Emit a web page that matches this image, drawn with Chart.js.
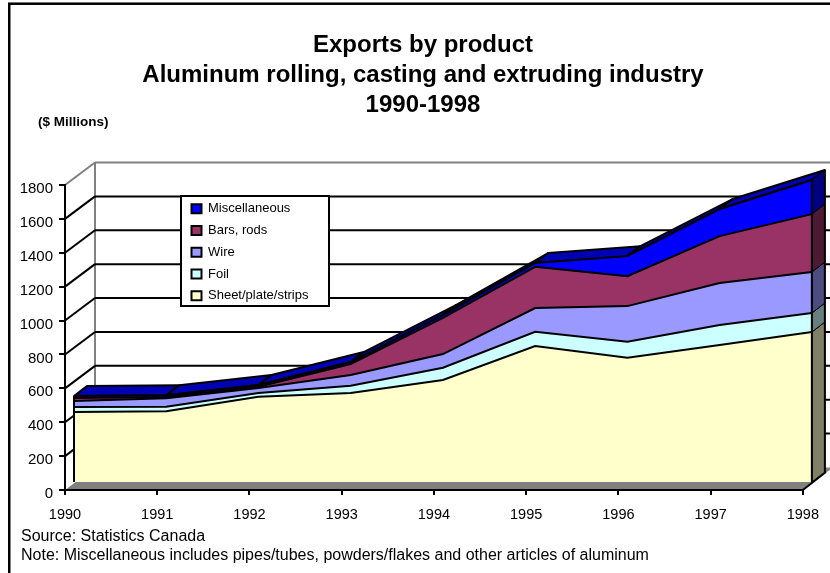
<!DOCTYPE html>
<html>
<head>
<meta charset="utf-8">
<title>Exports by product</title>
<script src="https://cdn.jsdelivr.net/npm/chart.js@4"></script>
<style>
    body { margin: 0; background: #fff; }
    canvas { display: block; }
</style>
</head>
<body>
<canvas id="grafico" width="830" height="573"></canvas>
<script>
const anios = ['1990', '1991', '1992', '1993', '1994', '1995', '1996', '1997', '1998'];
const sheet = [413, 417, 503, 525, 602, 802, 733, 808, 885];
const foil = [29, 27, 22, 43, 72, 85, 95, 118, 112];
const wire = [36, 50, 30, 63, 81, 140, 210, 248, 242];
const bars = [18, 8, 7, 65, 213, 243, 177, 277, 342];
const misc = [11, 10, 10, 12, 17, 22, 118, 160, 201];

const nombres = ['Sheet/plate/strips', 'Foil', 'Wire', 'Bars, rods', 'Miscellaneous'];
const valores = [sheet, foil, wire, bars, misc];
const colores = ['#FFFFCC', '#CCFFFF', '#9999FF', '#993366', '#0000FF'];
const coloresLado = ['#808066', '#668080', '#4C4C80', '#4D1A33', '#000080'];

const FUENTE = '"Liberation Sans", Arial, sans-serif';

// Desplazamientos de la perspectiva (cara frontal, fondo de la capa, pared)
const FRENTE = { x: 9, y: -8 };
const FONDO = { x: 13, y: -10 };
const PARED = { x: 30, y: -22.5 };

function poligono(ctx, puntos, relleno, borde, grosor) {
    ctx.beginPath();
    puntos.forEach((p, i) => i ? ctx.lineTo(p[0], p[1]) : ctx.moveTo(p[0], p[1]));
    ctx.closePath();
    if (relleno) {
        ctx.fillStyle = relleno;
        ctx.fill();
    }
    if (borde) {
        ctx.strokeStyle = borde;
        ctx.lineWidth = grosor;
        ctx.lineJoin = 'round';
        ctx.stroke();
    }
}

function linea(ctx, x1, y1, x2, y2, color, grosor) {
    ctx.beginPath();
    ctx.moveTo(x1, y1);
    ctx.lineTo(x2, y2);
    ctx.strokeStyle = color;
    ctx.lineWidth = grosor;
    ctx.stroke();
}

// Total acumulado hasta la capa indicada, para un año
function acumulado(capa, i) {
    let total = 0;
    for (let c = 0; c <= capa; c++) total += valores[c][i];
    return total;
}

// Paredes, piso, rejilla, recuadros y textos sueltos
const fondo3d = {
    id: 'fondo3d',
    beforeDraw(chart) {
        const { ctx, chartArea: area, scales: { y } } = chart;
        const abajo = y.getPixelForValue(0);
        const arriba = y.getPixelForValue(1800);
        ctx.save();

        // marco exterior
        ctx.strokeStyle = '#000';
        ctx.lineWidth = 2.5;
        ctx.strokeRect(9.25, 3.7, 900, 700);

        // piso
        poligono(ctx, [
            [area.left, abajo], [area.right, abajo],
            [area.right + PARED.x, abajo + PARED.y], [area.left + PARED.x, abajo + PARED.y]
        ], '#808080');
        linea(ctx, area.right, abajo, area.right + 23, abajo - 18, '#000', 2);

        // pared
        linea(ctx, area.left + PARED.x, arriba + PARED.y, area.left + PARED.x, abajo + PARED.y, '#808080', 2);
        linea(ctx, area.left, arriba, area.left + PARED.x, arriba + PARED.y, '#808080', 2);
        linea(ctx, area.left + PARED.x, arriba + PARED.y, 830, arriba + PARED.y, '#808080', 2);

        // rejilla
        for (let v = 200; v <= 1600; v += 200) {
            const py = y.getPixelForValue(v);
            linea(ctx, area.left, py, area.left + PARED.x, py + PARED.y, '#000', 2);
            linea(ctx, area.left + PARED.x, py + PARED.y, 830, py + PARED.y, '#000', 2);
        }

        // recuadro de la leyenda
        ctx.fillStyle = '#fff';
        ctx.fillRect(181, 196, 148, 110);
        ctx.strokeStyle = '#000';
        ctx.lineWidth = 2;
        ctx.strokeRect(181, 196, 148, 110);

        // textos
        ctx.fillStyle = '#000';
        ctx.textBaseline = 'middle';
        ctx.textAlign = 'left';
        ctx.font = 'bold 13.5px ' + FUENTE;
        ctx.fillText('($ Millions)', 38, 122);
        ctx.font = '16px ' + FUENTE;
        ctx.fillText('Source: Statistics Canada', 21, 537);
        ctx.fillText('Note: Miscellaneous includes pipes/tubes, powders/flakes and other articles of aluminum', 21, 556);
        ctx.restore();
    },
    afterLayout(chart) {
        // La leyenda flota sobre la pared
        const leyenda = chart.legend;
        const ancho = leyenda.width;
        const alto = leyenda.height;
        leyenda.left = 182.75;
        leyenda.right = leyenda.left + ancho;
        leyenda.top = 193.5;
        leyenda.bottom = leyenda.top + alto;

        // El título va centrado en x = 423
        chart.titleBlock.left = 16;
        chart.titleBlock.right = 830;
    },
    beforeDatasetsDraw(chart) {
        const { ctx, scales: { x, y } } = chart;
        const ultimo = anios.length - 1;
        const tope = valores.length - 1;
        const punto = (capa, i) => [
            x.getPixelForValue(i) + FRENTE.x,
            y.getPixelForValue(capa < 0 ? 0 : acumulado(capa, i)) + FRENTE.y
        ];

        // cara superior de la capa más alta
        for (let i = 0; i < ultimo; i++) {
            const a = punto(tope, i);
            const b = punto(tope, i + 1);
            poligono(ctx, [a, b, [b[0] + FONDO.x, b[1] + FONDO.y], [a[0] + FONDO.x, a[1] + FONDO.y]], '#0000B4', '#000', 2);
        }

        // cara lateral derecha
        for (let c = 0; c <= tope; c++) {
            const a = punto(c - 1, ultimo);
            const b = punto(c, ultimo);
            poligono(ctx, [a, b, [b[0] + FONDO.x, b[1] + FONDO.y], [a[0] + FONDO.x, a[1] + FONDO.y]], coloresLado[c], '#000', 1);
        }
        const base = punto(-1, ultimo);
        linea(ctx, base[0] + FONDO.x, base[1] + FONDO.y, punto(tope, ultimo)[0] + FONDO.x, punto(tope, ultimo)[1] + FONDO.y, '#000', 2);

        ctx.save();
        ctx.translate(FRENTE.x, FRENTE.y);
    },
    afterDatasetsDraw(chart) {
        const { ctx, chartArea: area, scales: { y } } = chart;
        const ultimo = anios.length - 1;
        const tope = valores.length - 1;
        linea(ctx, area.left, y.getPixelForValue(0), area.left, y.getPixelForValue(acumulado(tope, 0)), '#000', 2);
        linea(ctx, area.right, y.getPixelForValue(0), area.right, y.getPixelForValue(acumulado(tope, ultimo)), '#000', 2);
        ctx.restore();
    }
};

new Chart(document.getElementById('grafico').getContext('2d'), {
    type: 'line',
    data: {
        labels: anios,
        datasets: valores.map((serie, i) => ({
            label: nombres[i],
            data: serie,
            backgroundColor: colores[i],
            borderColor: '#000',
            borderWidth: 2,
            pointRadius: 0,
            tension: 0,
            clip: false,
            fill: i === 0 ? 'origin' : '-1'
        }))
    },
    plugins: [fondo3d],
    options: {
        responsive: false,
        animation: false,
        layout: { padding: { left: 0, right: 27, top: 0, bottom: 0 } },
        plugins: {
            tooltip: { enabled: false },
            title: {
                display: true,
                text: ['Exports by product', 'Aluminum rolling, casting and extruding industry', '1990-1998'],
                color: '#000',
                font: { family: FUENTE, size: 24, weight: 'bold', lineHeight: 1.25 },
                padding: { top: 30, bottom: 65 }
            },
            legend: {
                position: 'chartArea',
                align: 'start',
                reverse: true,
                labels: {
                    color: '#000',
                    boxWidth: 10,
                    boxHeight: 9,
                    padding: 8.75,
                    font: { family: FUENTE, size: 13 }
                }
            }
        },
        scales: {
            x: {
                grid: { drawOnChartArea: false, color: '#000', lineWidth: 2, tickLength: 5 },
                border: { color: '#000', width: 2 },
                ticks: { color: '#000', font: { family: FUENTE, size: 14.5 }, maxRotation: 0, autoSkip: false, padding: 11 },
                afterFit(scale) { scale.height = 83; }
            },
            y: {
                stacked: true,
                min: 0,
                max: 1800,
                grid: { drawOnChartArea: false, color: '#000', lineWidth: 2, tickLength: 6 },
                border: { color: '#000', width: 2 },
                ticks: {
                    color: '#000',
                    stepSize: 200,
                    font: { family: FUENTE, size: 15 },
                    padding: 6,
                    labelOffset: 4,
                    callback: valor => String(valor)
                },
                afterFit(scale) { scale.width = 65; }
            }
        }
    }
});
</script>
</body>
</html>
